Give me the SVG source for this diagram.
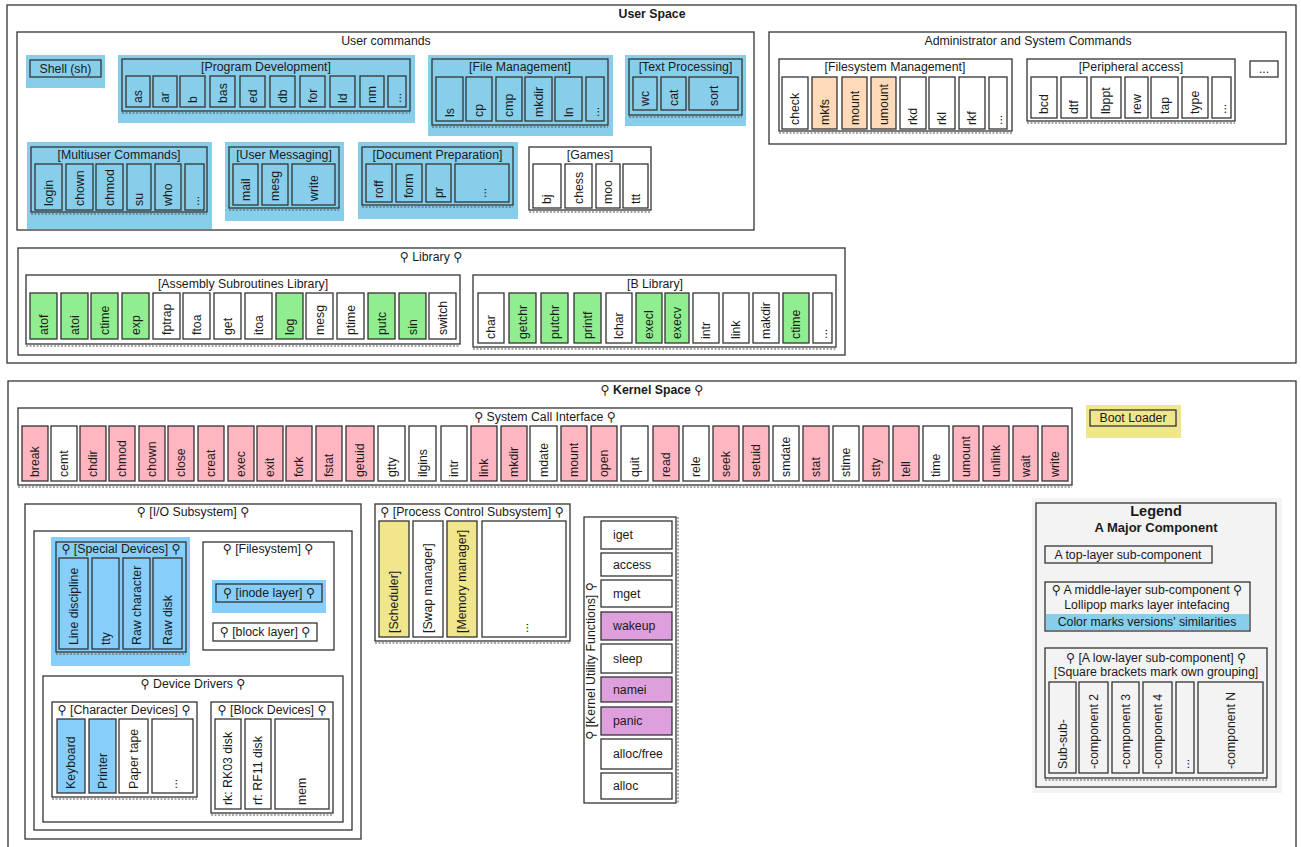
<svg xmlns="http://www.w3.org/2000/svg" width="1301" height="847" viewBox="0 0 1301 847">
<style>
text{font-family:"Liberation Sans","DejaVu Sans",Arial,sans-serif;font-size:12.3px;fill:#1a1a1a;dominant-baseline:central}
.c{text-anchor:middle}
.b{font-weight:bold}
rect{stroke:#333;stroke-width:1.3;fill:#fff}
rect.bg{stroke:none}
.sky{fill:#87CEEB}
.lsky{fill:#87CEFA}
.grn{fill:#90EE90}
.pnk{fill:#FFB6C1}
.pch{fill:#FFDAB9}
.kh{fill:#F0E68C}
.pl{fill:#DDA0DD}
.lg{fill:#F3F3F3}
.nf{fill:none}
.sh{stroke:#555;stroke-width:1;stroke-dasharray:2 1.5;fill:none}
</style>
<rect x="0" y="0" width="1301" height="847" style="fill:#fff;stroke:none"/>

<!-- USER SPACE -->
<g id="user-space">
<rect x="7" y="5" width="1289" height="358" class="nf"/>
<text x="652" y="14" class="c b">User Space</text>
</g>

<g id="user-commands">
<rect x="17" y="32" width="737" height="198" class="nf"/>
<text x="386" y="41" class="c">User commands</text>
</g>

<g id="shell">
<rect x="26" y="55" width="79" height="33" class="bg sky"/>
<rect x="30" y="60" width="71" height="17" class="sky"/>
<text x="65.5" y="68.5" class="c">Shell (sh)</text>
</g>

<g id="program-development">
<rect x="118" y="55" width="297" height="68" class="bg sky"/>
<rect x="122" y="59" width="288" height="52" class="sky"/>
<line x1="122" y1="113" x2="410" y2="113" class="sh"/>
<text x="266" y="67" class="c">[Program Development]</text>
<rect x="126" y="76" width="24" height="31" class="sky"/><text transform="translate(138,103) rotate(-90)">as</text>
<rect x="153" y="76" width="24" height="31" class="sky"/><text transform="translate(165,103) rotate(-90)">ar</text>
<rect x="180" y="76" width="25" height="31" class="sky"/><text transform="translate(192.5,103) rotate(-90)">b</text>
<rect x="210" y="76" width="25" height="31" class="sky"/><text transform="translate(222.5,103) rotate(-90)">bas</text>
<rect x="240" y="76" width="25" height="31" class="sky"/><text transform="translate(252.5,103) rotate(-90)">ed</text>
<rect x="270" y="76" width="25" height="31" class="sky"/><text transform="translate(282.5,103) rotate(-90)">db</text>
<rect x="300" y="76" width="25" height="31" class="sky"/><text transform="translate(312.5,103) rotate(-90)">for</text>
<rect x="330" y="76" width="25" height="31" class="sky"/><text transform="translate(342.5,103) rotate(-90)">ld</text>
<rect x="360" y="76" width="24" height="31" class="sky"/><text transform="translate(372,103) rotate(-90)">nm</text>
<rect x="388" y="76" width="18" height="31" class="sky"/><text transform="translate(397,103) rotate(-90)">...</text>
</g>

<g id="file-management">
<rect x="428" y="55" width="185" height="81" class="bg sky"/>
<rect x="432" y="59" width="176" height="66" class="sky"/>
<line x1="432" y1="127" x2="608" y2="127" class="sh"/>
<text x="520" y="67" class="c">[File Management]</text>
<rect x="436" y="77" width="27" height="44" class="sky"/><text transform="translate(449.5,117) rotate(-90)">ls</text>
<rect x="466" y="77" width="26" height="44" class="sky"/><text transform="translate(479,117) rotate(-90)">cp</text>
<rect x="496" y="77" width="26" height="44" class="sky"/><text transform="translate(509,117) rotate(-90)">cmp</text>
<rect x="525" y="77" width="27" height="44" class="sky"/><text transform="translate(538.5,117) rotate(-90)">mkdir</text>
<rect x="555" y="77" width="27" height="44" class="sky"/><text transform="translate(568.5,117) rotate(-90)">ln</text>
<rect x="586" y="77" width="18" height="44" class="sky"/><text transform="translate(595,117) rotate(-90)">...</text>
</g>

<g id="text-processing">
<rect x="625" y="55" width="121" height="71" class="bg sky"/>
<rect x="629" y="59" width="113" height="56" class="sky"/>
<line x1="629" y1="117" x2="742" y2="117" class="sh"/>
<text x="685.5" y="67" class="c">[Text Processing]</text>
<rect x="633" y="77" width="24" height="33" class="sky"/><text transform="translate(645,106) rotate(-90)">wc</text>
<rect x="661" y="77" width="25" height="33" class="sky"/><text transform="translate(673.5,106) rotate(-90)">cat</text>
<rect x="689" y="77" width="49" height="33" class="sky"/><text transform="translate(713.5,106) rotate(-90)">sort</text>
</g>

<g id="multiuser-commands">
<rect x="27" y="142" width="185" height="87" class="bg sky"/>
<rect x="31" y="147" width="176" height="65" class="sky"/>
<line x1="31" y1="214" x2="207" y2="214" class="sh"/>
<text x="119" y="155" class="c">[Multiuser Commands]</text>
<rect x="35" y="164" width="27" height="46" class="sky"/><text transform="translate(48.5,206) rotate(-90)">login</text>
<rect x="66" y="164" width="27" height="46" class="sky"/><text transform="translate(79.5,206) rotate(-90)">chown</text>
<rect x="96" y="164" width="27" height="46" class="sky"/><text transform="translate(109.5,206) rotate(-90)">chmod</text>
<rect x="127" y="164" width="24" height="46" class="sky"/><text transform="translate(139,206) rotate(-90)">su</text>
<rect x="155" y="164" width="26" height="46" class="sky"/><text transform="translate(168,206) rotate(-90)">who</text>
<rect x="185" y="164" width="19" height="46" class="sky"/><text transform="translate(194.5,206) rotate(-90)">...</text>
</g>

<g id="user-messaging">
<rect x="225" y="142" width="119" height="79" class="bg sky"/>
<rect x="229" y="147" width="110" height="61" class="sky"/>
<line x1="229" y1="210" x2="339" y2="210" class="sh"/>
<text x="284" y="155" class="c">[User Messaging]</text>
<rect x="233" y="164" width="25" height="41" class="sky"/><text transform="translate(245.5,201) rotate(-90)">mail</text>
<rect x="262" y="164" width="26" height="41" class="sky"/><text transform="translate(275,201) rotate(-90)">mesg</text>
<rect x="292" y="164" width="43" height="41" class="sky"/><text transform="translate(313.5,201) rotate(-90)">write</text>
</g>

<g id="document-preparation">
<rect x="358" y="142" width="160" height="77" class="bg sky"/>
<rect x="362" y="147" width="151" height="58" class="sky"/>
<line x1="362" y1="207" x2="513" y2="207" class="sh"/>
<text x="437.5" y="155" class="c">[Document Preparation]</text>
<rect x="366" y="164" width="26" height="38" class="sky"/><text transform="translate(379,198) rotate(-90)">roff</text>
<rect x="396" y="164" width="26" height="38" class="sky"/><text transform="translate(409,198) rotate(-90)">form</text>
<rect x="426" y="164" width="25" height="38" class="sky"/><text transform="translate(438.5,198) rotate(-90)">pr</text>
<rect x="455" y="164" width="54" height="38" class="sky"/><text transform="translate(482,198) rotate(-90)">...</text>
</g>

<g id="games">
<rect x="529" y="147" width="122" height="63"/>
<line x1="529" y1="212" x2="651" y2="212" class="sh"/>
<text x="590" y="155" class="c">[Games]</text>
<rect x="533" y="164" width="28" height="44"/><text transform="translate(547,204) rotate(-90)">bj</text>
<rect x="565" y="164" width="27" height="44"/><text transform="translate(578.5,204) rotate(-90)">chess</text>
<rect x="596" y="164" width="24" height="44"/><text transform="translate(608,204) rotate(-90)">moo</text>
<rect x="623" y="164" width="25" height="44"/><text transform="translate(635.5,204) rotate(-90)">ttt</text>
</g>

<g id="admin-commands">
<rect x="769" y="32" width="517" height="112" class="nf"/>
<text x="1028" y="41" class="c">Administrator and System Commands</text>
</g>

<g id="filesystem-management">
<rect x="779" y="59" width="233" height="72"/>
<line x1="779" y1="133" x2="1012" y2="133" class="sh"/>
<text x="895" y="67" class="c">[Filesystem Management]</text>
<rect x="782" y="77" width="26" height="52"/><text transform="translate(795,125) rotate(-90)">check</text>
<rect x="812" y="77" width="25" height="52" class="pch"/><text transform="translate(824.5,125) rotate(-90)">mkfs</text>
<rect x="842" y="77" width="25" height="52" class="pch"/><text transform="translate(854.5,125) rotate(-90)">mount</text>
<rect x="871" y="77" width="25" height="52" class="pch"/><text transform="translate(883.5,125) rotate(-90)">umount</text>
<rect x="900" y="77" width="26" height="52"/><text transform="translate(913,125) rotate(-90)">rkd</text>
<rect x="929" y="77" width="26" height="52"/><text transform="translate(942,125) rotate(-90)">rkl</text>
<rect x="959" y="77" width="26" height="52"/><text transform="translate(972,125) rotate(-90)">rkf</text>
<rect x="989" y="77" width="18" height="52"/><text transform="translate(998,125) rotate(-90)">...</text>
</g>

<g id="peripheral-access">
<rect x="1027" y="59" width="208" height="62"/>
<line x1="1027" y1="123" x2="1235" y2="123" class="sh"/>
<text x="1131" y="67" class="c">[Peripheral access]</text>
<rect x="1031" y="77" width="26" height="41"/><text transform="translate(1044,114) rotate(-90)">bcd</text>
<rect x="1061" y="77" width="26" height="41"/><text transform="translate(1074,114) rotate(-90)">dtf</text>
<rect x="1091" y="77" width="30" height="41"/><text transform="translate(1106,114) rotate(-90)">lbppt</text>
<rect x="1125" y="77" width="23" height="41"/><text transform="translate(1136.5,114) rotate(-90)">rew</text>
<rect x="1151" y="77" width="27" height="41"/><text transform="translate(1164.5,114) rotate(-90)">tap</text>
<rect x="1182" y="77" width="26" height="41"/><text transform="translate(1195,114) rotate(-90)">type</text>
<rect x="1212" y="77" width="19" height="41"/><text transform="translate(1221.5,114) rotate(-90)">...</text>
</g>

<g id="admin-more">
<rect x="1250" y="61" width="28" height="16"/>
<text x="1264" y="68.5" class="c">...</text>
</g>

<g id="library">
<rect x="18" y="248" width="827" height="107" class="nf"/>
<text x="431" y="257" class="c">⚲ Library ⚲</text>
</g>

<g id="assembly-library">
<rect x="26" y="275" width="434" height="69"/>
<line x1="26" y1="346" x2="460" y2="346" class="sh"/>
<text x="243" y="284" class="c">[Assembly Subroutines Library]</text>
<rect x="30" y="293" width="27" height="46" class="grn"/><text transform="translate(43.5,335) rotate(-90)">atof</text>
<rect x="61" y="293" width="27" height="46" class="grn"/><text transform="translate(74.5,335) rotate(-90)">atoi</text>
<rect x="91" y="293" width="27" height="46" class="grn"/><text transform="translate(104.5,335) rotate(-90)">ctime</text>
<rect x="122" y="293" width="27" height="46" class="grn"/><text transform="translate(135.5,335) rotate(-90)">exp</text>
<rect x="153" y="293" width="27" height="46"/><text transform="translate(166.5,335) rotate(-90)">fptrap</text>
<rect x="183" y="293" width="27" height="46"/><text transform="translate(196.5,335) rotate(-90)">ftoa</text>
<rect x="214" y="293" width="27" height="46"/><text transform="translate(227.5,335) rotate(-90)">get</text>
<rect x="245" y="293" width="27" height="46"/><text transform="translate(258.5,335) rotate(-90)">itoa</text>
<rect x="276" y="293" width="27" height="46" class="grn"/><text transform="translate(289.5,335) rotate(-90)">log</text>
<rect x="306" y="293" width="27" height="46"/><text transform="translate(319.5,335) rotate(-90)">mesg</text>
<rect x="337" y="293" width="27" height="46"/><text transform="translate(350.5,335) rotate(-90)">ptime</text>
<rect x="368" y="293" width="27" height="46" class="grn"/><text transform="translate(381.5,335) rotate(-90)">putc</text>
<rect x="399" y="293" width="27" height="46" class="grn"/><text transform="translate(412.5,335) rotate(-90)">sin</text>
<rect x="429" y="293" width="27" height="46"/><text transform="translate(442.5,335) rotate(-90)">switch</text>
</g>

<g id="b-library">
<rect x="473" y="275" width="363" height="72"/>
<line x1="473" y1="349" x2="836" y2="349" class="sh"/>
<text x="655" y="284" class="c">[B Library]</text>
<rect x="478" y="293" width="26" height="50"/><text transform="translate(491,339) rotate(-90)">char</text>
<rect x="509" y="293" width="27" height="50" class="grn"/><text transform="translate(522.5,339) rotate(-90)">getchr</text>
<rect x="541" y="293" width="27" height="50" class="grn"/><text transform="translate(554.5,339) rotate(-90)">putchr</text>
<rect x="574" y="293" width="27" height="50" class="grn"/><text transform="translate(587.5,339) rotate(-90)">printf</text>
<rect x="606" y="293" width="26" height="50"/><text transform="translate(619,339) rotate(-90)">lchar</text>
<rect x="636" y="293" width="26" height="50" class="grn"/><text transform="translate(649,339) rotate(-90)">execl</text>
<rect x="665" y="293" width="24" height="50" class="grn"/><text transform="translate(677,339) rotate(-90)">execv</text>
<rect x="693" y="293" width="26" height="50"/><text transform="translate(706,339) rotate(-90)">intr</text>
<rect x="723" y="293" width="26" height="50"/><text transform="translate(736,339) rotate(-90)">link</text>
<rect x="753" y="293" width="26" height="50"/><text transform="translate(766,339) rotate(-90)">makdir</text>
<rect x="783" y="293" width="26" height="50" class="grn"/><text transform="translate(796,339) rotate(-90)">ctime</text>
<rect x="813" y="293" width="19" height="50"/><text transform="translate(822.5,339) rotate(-90)">...</text>
</g>

<!-- KERNEL SPACE -->
<g id="kernel-space">
<rect x="8" y="381" width="1288" height="472" class="nf"/>
<text x="652" y="390" class="c b">⚲ Kernel Space ⚲</text>
</g>

<g id="system-call-interface">
<rect x="18" y="408" width="1054" height="77"/>
<line x1="18" y1="487" x2="1072" y2="487" class="sh"/>
<text x="545" y="417" class="c">⚲ System Call Interface ⚲</text>
<rect x="22" y="426" width="26" height="55" class="pnk"/><text transform="translate(35,477) rotate(-90)">break</text>
<rect x="51" y="426" width="26" height="55"/><text transform="translate(64,477) rotate(-90)">cemt</text>
<rect x="80" y="426" width="26" height="55" class="pnk"/><text transform="translate(93,477) rotate(-90)">chdir</text>
<rect x="109" y="426" width="26" height="55" class="pnk"/><text transform="translate(122,477) rotate(-90)">chmod</text>
<rect x="139" y="426" width="26" height="55" class="pnk"/><text transform="translate(152,477) rotate(-90)">chown</text>
<rect x="168" y="426" width="26" height="55" class="pnk"/><text transform="translate(181,477) rotate(-90)">close</text>
<rect x="198" y="426" width="26" height="55" class="pnk"/><text transform="translate(211,477) rotate(-90)">creat</text>
<rect x="228" y="426" width="26" height="55" class="pnk"/><text transform="translate(241,477) rotate(-90)">exec</text>
<rect x="257" y="426" width="26" height="55" class="pnk"/><text transform="translate(270,477) rotate(-90)">exit</text>
<rect x="286" y="426" width="26" height="55" class="pnk"/><text transform="translate(299,477) rotate(-90)">fork</text>
<rect x="316" y="426" width="26" height="55" class="pnk"/><text transform="translate(329,477) rotate(-90)">fstat</text>
<rect x="346" y="426" width="28" height="55" class="pnk"/><text transform="translate(360,477) rotate(-90)">getuid</text>
<rect x="378" y="426" width="27" height="55"/><text transform="translate(391.5,477) rotate(-90)">gtty</text>
<rect x="409" y="426" width="27" height="55"/><text transform="translate(422.5,477) rotate(-90)">ilgins</text>
<rect x="441" y="426" width="26" height="55"/><text transform="translate(454,477) rotate(-90)">intr</text>
<rect x="471" y="426" width="26" height="55" class="pnk"/><text transform="translate(484,477) rotate(-90)">link</text>
<rect x="501" y="426" width="26" height="55" class="pnk"/><text transform="translate(514,477) rotate(-90)">mkdir</text>
<rect x="530" y="426" width="27" height="55"/><text transform="translate(543.5,477) rotate(-90)">mdate</text>
<rect x="561" y="426" width="26" height="55" class="pnk"/><text transform="translate(574,477) rotate(-90)">mount</text>
<rect x="591" y="426" width="26" height="55" class="pnk"/><text transform="translate(604,477) rotate(-90)">open</text>
<rect x="621" y="426" width="27" height="55"/><text transform="translate(634.5,477) rotate(-90)">quit</text>
<rect x="653" y="426" width="26" height="55" class="pnk"/><text transform="translate(666,477) rotate(-90)">read</text>
<rect x="683" y="426" width="26" height="55"/><text transform="translate(696,477) rotate(-90)">rele</text>
<rect x="713" y="426" width="26" height="55" class="pnk"/><text transform="translate(726,477) rotate(-90)">seek</text>
<rect x="743" y="426" width="26" height="55" class="pnk"/><text transform="translate(756,477) rotate(-90)">setuid</text>
<rect x="773" y="426" width="26" height="55"/><text transform="translate(786,477) rotate(-90)">smdate</text>
<rect x="803" y="426" width="26" height="55" class="pnk"/><text transform="translate(816,477) rotate(-90)">stat</text>
<rect x="833" y="426" width="26" height="55"/><text transform="translate(846,477) rotate(-90)">stime</text>
<rect x="863" y="426" width="26" height="55" class="pnk"/><text transform="translate(876,477) rotate(-90)">stty</text>
<rect x="893" y="426" width="26" height="55" class="pnk"/><text transform="translate(906,477) rotate(-90)">tell</text>
<rect x="923" y="426" width="26" height="55"/><text transform="translate(936,477) rotate(-90)">time</text>
<rect x="953" y="426" width="26" height="55" class="pnk"/><text transform="translate(966,477) rotate(-90)">umount</text>
<rect x="983" y="426" width="26" height="55" class="pnk"/><text transform="translate(996,477) rotate(-90)">unlink</text>
<rect x="1013" y="426" width="25" height="55" class="pnk"/><text transform="translate(1025.5,477) rotate(-90)">wait</text>
<rect x="1042" y="426" width="26" height="55" class="pnk"/><text transform="translate(1055,477) rotate(-90)">write</text>
</g>

<g id="boot-loader">
<rect x="1086" y="405" width="95" height="33" class="bg kh"/>
<rect x="1090" y="410" width="86" height="16" class="kh"/>
<text x="1133" y="417.5" class="c">Boot Loader</text>
</g>

<g id="io-subsystem">
<rect x="25" y="504" width="336" height="335"/>
<text x="193" y="512" class="c">⚲ [I/O Subsystem] ⚲</text>
<rect x="34" y="531" width="318" height="299"/>
</g>

<g id="special-devices">
<rect x="51" y="537" width="139" height="129" class="bg lsky"/>
<rect x="56" y="542" width="130" height="110" class="lsky"/>
<line x1="56" y1="654" x2="186" y2="654" class="sh"/>
<text x="121" y="549" class="c">⚲ [Special Devices] ⚲</text>
<rect x="59" y="558" width="29" height="91" class="lsky"/><text transform="translate(73.5,645) rotate(-90)">Line discipline</text>
<rect x="92" y="558" width="27" height="91" class="lsky"/><text transform="translate(105.5,645) rotate(-90)">tty</text>
<rect x="123" y="558" width="27" height="91" class="lsky"/><text transform="translate(136.5,645) rotate(-90)">Raw character</text>
<rect x="153" y="558" width="29" height="91" class="lsky"/><text transform="translate(167.5,645) rotate(-90)">Raw disk</text>
</g>

<g id="filesystem">
<rect x="203" y="542" width="131" height="108"/>
<text x="268" y="549" class="c">⚲ [Filesystem] ⚲</text>
</g>

<g id="inode-layer">
<rect x="212" y="580" width="114" height="33" class="bg lsky"/>
<rect x="216" y="584" width="106" height="18" class="lsky"/>
<text x="269" y="593" class="c">⚲ [inode layer] ⚲</text>
</g>

<g id="block-layer">
<rect x="213" y="623" width="104" height="18"/>
<text x="265" y="632" class="c">⚲ [block layer] ⚲</text>
</g>

<g id="device-drivers">
<rect x="43" y="676" width="300" height="146"/>
<text x="193" y="684" class="c">⚲ Device Drivers ⚲</text>
</g>

<g id="character-devices">
<rect x="52" y="702" width="145" height="95"/>
<line x1="52" y1="799" x2="197" y2="799" class="sh"/>
<text x="124" y="710" class="c">⚲ [Character Devices] ⚲</text>
<rect x="57" y="719" width="28" height="74" class="lsky"/><text transform="translate(71,789) rotate(-90)">Keyboard</text>
<rect x="89" y="719" width="27" height="74" class="lsky"/><text transform="translate(102.5,789) rotate(-90)">Printer</text>
<rect x="119" y="719" width="29" height="74"/><text transform="translate(133.5,789) rotate(-90)">Paper tape</text>
<rect x="152" y="719" width="41" height="74"/><text transform="translate(172.5,789) rotate(-90)">...</text>
</g>

<g id="block-devices">
<rect x="211" y="702" width="122" height="111"/>
<line x1="211" y1="815" x2="333" y2="815" class="sh"/>
<text x="272" y="710" class="c">⚲ [Block Devices] ⚲</text>
<rect x="215" y="719" width="26" height="90"/><text transform="translate(228,805) rotate(-90)">rk: RK03 disk</text>
<rect x="245" y="719" width="26" height="90"/><text transform="translate(258,805) rotate(-90)">rf: RF11 disk</text>
<rect x="275" y="719" width="54" height="90"/><text transform="translate(302,805) rotate(-90)">mem</text>
</g>

<g id="process-control">
<rect x="375" y="504" width="195" height="137"/>
<line x1="375" y1="643" x2="570" y2="643" class="sh"/>
<text x="472" y="512" class="c">⚲ [Process Control Subsystem] ⚲</text>
<rect x="379" y="521" width="30" height="116" class="kh"/><text transform="translate(394,633) rotate(-90)">[Scheduler]</text>
<rect x="413" y="521" width="30" height="116"/><text transform="translate(428,633) rotate(-90)">[Swap manager]</text>
<rect x="447" y="521" width="30" height="116" class="kh"/><text transform="translate(462,633) rotate(-90)">[Memory manager]</text>
<rect x="482" y="521" width="84" height="116"/><text transform="translate(524,633) rotate(-90)">...</text>
</g>

<g id="kernel-utility-functions">
<rect x="584" y="517" width="92" height="286"/>
<line x1="678" y1="517" x2="678" y2="803" class="sh"/>
<text transform="translate(591,661) rotate(-90)" class="c">⚲ [Kernel Utility Functions] ⚲</text>
<rect x="601" y="521" width="71" height="28"/><text x="613" y="535">iget</text>
<rect x="601" y="553" width="71" height="23"/><text x="613" y="564.5">access</text>
<rect x="601" y="580" width="71" height="27"/><text x="613" y="593.5">mget</text>
<rect x="601" y="612" width="71" height="28" class="pl"/><text x="613" y="626">wakeup</text>
<rect x="601" y="644" width="71" height="29"/><text x="613" y="658.5">sleep</text>
<rect x="601" y="677" width="71" height="25" class="pl"/><text x="613" y="689.5">namei</text>
<rect x="601" y="707" width="71" height="28" class="pl"/><text x="613" y="721">panic</text>
<rect x="601" y="739" width="71" height="30"/><text x="613" y="754">alloc/free</text>
<rect x="601" y="773" width="71" height="26"/><text x="613" y="786">alloc</text>
</g>

<g id="legend">
<rect x="1032" y="498" width="250" height="295" class="bg lg"/>
<rect x="1036" y="503" width="240" height="284" class="lg"/>
<text x="1156" y="511" class="c b" style="font-size:14.5px">Legend</text>
<text x="1156" y="527" class="c b" style="font-size:13px">A Major Component</text>
<rect x="1045" y="546" width="167" height="17" class="lg"/>
<text x="1128" y="555" class="c">A top-layer sub-component</text>
<rect x="1045" y="582" width="205" height="49" class="lg"/>
<rect x="1046" y="614" width="203" height="16" class="bg sky"/>
<text x="1147" y="590" class="c">⚲ A middle-layer sub-component ⚲</text>
<text x="1147" y="605" class="c">Lollipop marks layer intefacing</text>
<text x="1147" y="621.5" class="c">Color marks versions' similarities</text>
<rect x="1045" y="648" width="222" height="130" class="lg"/>
<line x1="1045" y1="780" x2="1267" y2="780" class="sh"/>
<text x="1156" y="658" class="c">⚲ [A low-layer sub-component] ⚲</text>
<text x="1156" y="672" class="c">[Square brackets mark own grouping]</text>
<rect x="1049" y="682" width="27" height="91" class="lg"/><text transform="translate(1062.5,769) rotate(-90)">Sub-sub-</text>
<rect x="1079" y="682" width="29" height="91" class="lg"/><text transform="translate(1093.5,769) rotate(-90)">-component 2</text>
<rect x="1112" y="682" width="27" height="91" class="lg"/><text transform="translate(1125.5,769) rotate(-90)">-component 3</text>
<rect x="1143" y="682" width="29" height="91" class="lg"/><text transform="translate(1157.5,769) rotate(-90)">-component 4</text>
<rect x="1176" y="682" width="18" height="91" class="lg"/><text transform="translate(1185,769) rotate(-90)">...</text>
<rect x="1198" y="682" width="65" height="91" class="lg"/><text transform="translate(1230.5,769) rotate(-90)">-component N</text>
</g>

<g id="connectors"></g>
</svg>
